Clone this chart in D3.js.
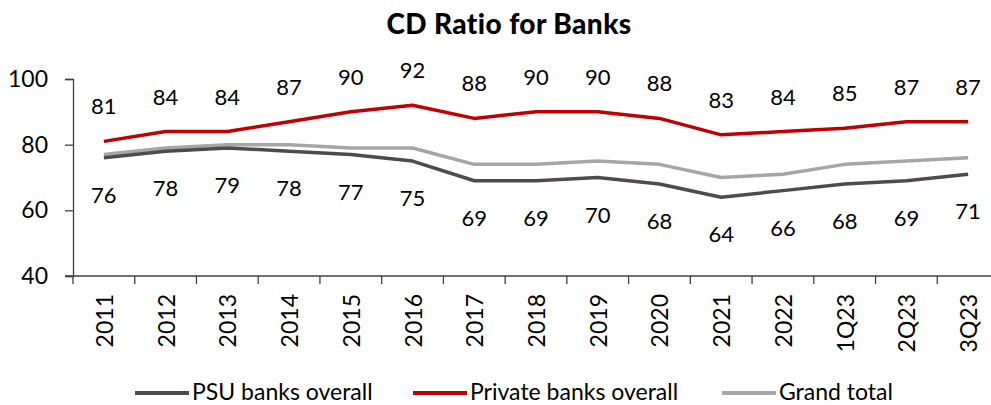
<!DOCTYPE html>
<html>
<head>
<meta charset="utf-8">
<script src="https://cdn.jsdelivr.net/npm/d3@7"></script>
<style>
  body { margin: 0; background: #fff; }
  svg { font-family: "Lato", "Open Sans", sans-serif; }
</style>
</head>
<body>
<div id="chart"></div>
<script>
// data
const periods = ["2011","2012","2013","2014","2015","2016","2017","2018","2019","2020","2021","2022","1Q23","2Q23","3Q23"];
const psuBanks = [76,78,79,78,77,75,69,69,70,68,64,66,68,69,71];
const privateBanks = [81,84,84,87,90,92,88,90,90,88,83,84,85,87,87];
const grandTotal = [77,79,80,80,79,79,74,74,75,74,70,71,74,75,76];
const yTicks = [40,60,80,100];

const width = 991, height = 405;
const margin = {left: 73, right: -8, top: 79, bottom: 129};

var svg = d3.select("#chart")
    .append("svg")
    .attr("width", width)
    .attr("height", height);

var x = d3.scaleBand()
    .domain(periods)
    .range([margin.left, width - margin.right]);

var y = d3.scaleLinear()
    .domain([40, 100])
    .range([height - margin.bottom, margin.top]);

// title
svg.append("text")
    .attr("x", 509)
    .attr("y", 34)
    .attr("text-anchor", "middle")
    .attr("font-size", "28px")
    .attr("font-weight", "900")
    .attr("letter-spacing", "0.4px")
    .attr("fill", "#000")
    .text("CD Ratio for Banks");

// y axis
var yAxis = svg.append("g")
    .attr("transform", "translate(" + margin.left + ",0)")
    .call(d3.axisLeft(y).tickValues(yTicks).tickSize(8).tickPadding(17));
yAxis.selectAll("text").attr("font-size", "23px").attr("fill", "#000").attr("font-family", "Lato");
yAxis.selectAll("line, path").attr("stroke", "#404040").attr("stroke-width", 1.3);

// x axis: ticks on band boundaries
var xg = svg.append("g")
    .attr("transform", "translate(0," + y(40) + ")");
xg.append("line")
    .attr("x1", margin.left - 8).attr("x2", width)
    .attr("stroke", "#404040").attr("stroke-width", 1.3);
xg.selectAll(".tk")
    .data(periods)
    .enter()
    .append("line")
    .attr("class", "tk")
    .attr("x1", d => x(d)).attr("x2", d => x(d))
    .attr("y1", 0).attr("y2", 8)
    .attr("stroke", "#404040").attr("stroke-width", 1.3);
xg.selectAll(".lbl")
    .data(periods)
    .enter()
    .append("text")
    .attr("class", "lbl")
    .attr("transform", d => "translate(" + (x(d) + x.bandwidth() / 2 + 9) + ",18) rotate(-90)")
    .attr("text-anchor", "end")
    .attr("font-size", "23px")
    .attr("fill", "#000")
    .text(d => d);

var series = [
    {name: "PSU banks overall", values: psuBanks, color: "#4f4b4c", label: "below"},
    {name: "Private banks overall", values: privateBanks, color: "#c00000", label: "above"},
    {name: "Grand total", values: grandTotal, color: "#a6a6a6", label: null}
];

var line = d3.line()
    .x((d, i) => x(periods[i]) + x.bandwidth() / 2)
    .y(d => y(d));

// draw gray first so darker lines sit on top
[series[2], series[0], series[1]].forEach(s => {
    svg.append("path")
        .datum(s.values)
        .attr("fill", "none")
        .attr("stroke", s.color)
        .attr("stroke-width", 3.5)
        .attr("stroke-linejoin", "round")
        .attr("d", line);
});

series.forEach(s => {
    if (!s.label) return;
    svg.selectAll(".dl-" + s.label)
        .data(s.values)
        .enter()
        .append("text")
        .attr("x", (d, i) => x(periods[i]) + x.bandwidth() / 2)
        .attr("y", d => s.label == "above" ? y(d) - 27 : y(d) + 45)
        .attr("text-anchor", "middle")
        .attr("font-size", "22px")
        .attr("fill", "#000")
        .text(d => d);
});

// legend
var legendX = [135, 413, 722];
var legend = svg.selectAll(".legend")
    .data(series)
    .enter()
    .append("g")
    .attr("transform", (d, i) => "translate(" + legendX[i] + ",393)");
legend.append("line")
    .attr("x1", 0).attr("x2", 54)
    .attr("stroke", d => d.color)
    .attr("stroke-width", 4);
legend.append("text")
    .attr("x", 57)
    .attr("y", 7)
    .attr("font-size", "23px")
    .attr("fill", "#000")
    .text(d => d.name);
</script>
</body>
</html>
